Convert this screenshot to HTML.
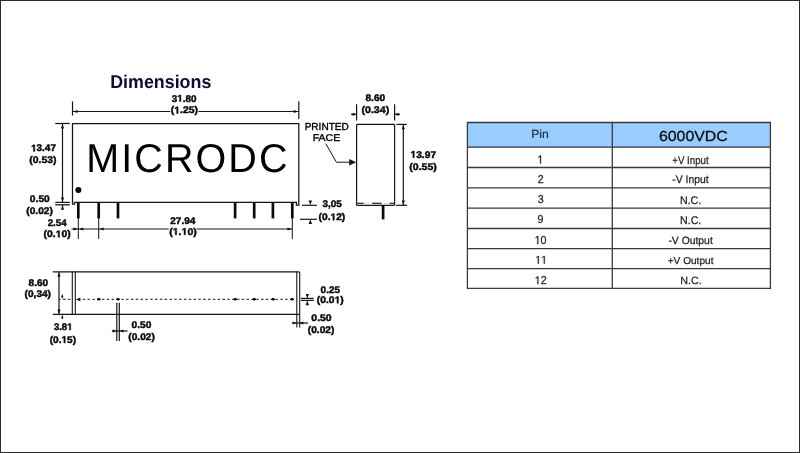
<!DOCTYPE html>
<html><head><meta charset="utf-8"><style>html,body{margin:0;padding:0;background:#fff;}body{width:800px;height:453px;overflow:hidden;font-family:"Liberation Sans",sans-serif;}svg{display:block;will-change:transform;}</style></head>
<body><svg width="800" height="453" viewBox="0 0 800 453" text-rendering="geometricPrecision" font-family="Liberation Sans, sans-serif">
<rect x="0" y="0" width="800" height="453" fill="#fff"/>
<rect x="467.5" y="122.5" width="303" height="25" fill="#99ccff"/><line x1="467" y1="122.5" x2="771" y2="122.5" stroke="#3a3a3a" stroke-width="1.3"/><line x1="467" y1="147.2" x2="771" y2="147.2" stroke="#3a3a3a" stroke-width="1.3"/><line x1="467" y1="167.5" x2="771" y2="167.5" stroke="#3a3a3a" stroke-width="1.3"/><line x1="467" y1="187.8" x2="771" y2="187.8" stroke="#3a3a3a" stroke-width="1.3"/><line x1="467" y1="208.1" x2="771" y2="208.1" stroke="#3a3a3a" stroke-width="1.3"/><line x1="467" y1="228.5" x2="771" y2="228.5" stroke="#3a3a3a" stroke-width="1.3"/><line x1="467" y1="248.6" x2="771" y2="248.6" stroke="#3a3a3a" stroke-width="1.3"/><line x1="467" y1="268.7" x2="771" y2="268.7" stroke="#3a3a3a" stroke-width="1.3"/><line x1="467" y1="288.4" x2="771" y2="288.4" stroke="#3a3a3a" stroke-width="1.3"/><line x1="467.4" y1="122" x2="467.4" y2="289" stroke="#3a3a3a" stroke-width="1.3"/><line x1="612.3" y1="122" x2="612.3" y2="289" stroke="#3a3a3a" stroke-width="1.3"/><line x1="770.4" y1="122" x2="770.4" y2="289" stroke="#3a3a3a" stroke-width="1.3"/>
<path d="M72.5,123.5 H298.8 V205.2 H296.4 V202.4 H74.6 V204.2 H72.5 Z" fill="none" stroke="#151515" stroke-width="1.25"/><circle cx="78.4" cy="190" r="3" fill="#000"/><line x1="78.3" y1="202.5" x2="78.3" y2="218.4" stroke="#0a0a0a" stroke-width="2.7"/><line x1="98.7" y1="202.5" x2="98.7" y2="218.4" stroke="#0a0a0a" stroke-width="2.7"/><line x1="118" y1="202.5" x2="118" y2="218.4" stroke="#0a0a0a" stroke-width="2.7"/><line x1="235.1" y1="202.5" x2="235.1" y2="218.4" stroke="#0a0a0a" stroke-width="2.7"/><line x1="254.2" y1="202.5" x2="254.2" y2="218.4" stroke="#0a0a0a" stroke-width="2.7"/><line x1="272.9" y1="202.5" x2="272.9" y2="218.4" stroke="#0a0a0a" stroke-width="2.7"/><line x1="292.3" y1="202.5" x2="292.3" y2="218.4" stroke="#0a0a0a" stroke-width="2.7"/><line x1="78.3" y1="218" x2="78.3" y2="239" stroke="#151515" stroke-width="1"/><line x1="98.7" y1="218" x2="98.7" y2="239" stroke="#151515" stroke-width="1"/><line x1="292.3" y1="218" x2="292.3" y2="239" stroke="#151515" stroke-width="1"/><line x1="72.5" y1="101.4" x2="72.5" y2="115.5" stroke="#151515" stroke-width="1.2"/><line x1="298.8" y1="101.3" x2="298.8" y2="119.1" stroke="#151515" stroke-width="1.2"/><line x1="72.5" y1="111.5" x2="170.3" y2="111.5" stroke="#151515" stroke-width="1.2"/><line x1="198.4" y1="111.5" x2="298.8" y2="111.5" stroke="#151515" stroke-width="1.2"/><polygon points="73.00,111.50 77.50,109.90 77.50,113.10" fill="#151515"/><polygon points="298.30,111.50 293.80,109.90 293.80,113.10" fill="#151515"/><line x1="55.2" y1="123.5" x2="69.8" y2="123.5" stroke="#151515" stroke-width="1.2"/><line x1="62.5" y1="123.5" x2="62.5" y2="202.3" stroke="#151515" stroke-width="1.2"/><polygon points="62.50,124.00 60.90,128.50 64.10,128.50" fill="#151515"/><polygon points="62.50,202.00 60.90,197.50 64.10,197.50" fill="#151515"/><line x1="55.3" y1="202.4" x2="69.8" y2="202.4" stroke="#151515" stroke-width="1.2"/><line x1="55.3" y1="204.8" x2="69.8" y2="204.8" stroke="#151515" stroke-width="1.3"/><line x1="62.5" y1="205" x2="62.5" y2="209.5" stroke="#151515" stroke-width="1.2"/><polygon points="62.50,205.20 60.90,209.70 64.10,209.70" fill="#151515"/><line x1="71.5" y1="229" x2="168.7" y2="229" stroke="#151515" stroke-width="1.2"/><line x1="196.6" y1="229" x2="292.3" y2="229" stroke="#151515" stroke-width="1.2"/><polygon points="78.00,229.00 73.50,227.40 73.50,230.60" fill="#151515"/><polygon points="78.80,229.00 83.30,227.40 83.30,230.60" fill="#151515"/><polygon points="99.20,229.00 103.70,227.40 103.70,230.60" fill="#151515"/><polygon points="291.90,229.00 287.40,227.40 287.40,230.60" fill="#151515"/><line x1="302" y1="205.3" x2="316.9" y2="205.3" stroke="#151515" stroke-width="1.2"/><line x1="300.1" y1="219.3" x2="316.9" y2="219.3" stroke="#151515" stroke-width="1.2"/><polygon points="310.30,205.00 308.50,200.60 312.10,200.60" fill="#151515"/><polygon points="310.30,219.40 308.50,224.00 312.10,224.00" fill="#151515"/><line x1="356.6" y1="124.4" x2="394.6" y2="124.4" stroke="#151515" stroke-width="1.2"/><line x1="356.6" y1="124.4" x2="356.6" y2="205.3" stroke="#151515" stroke-width="1.2"/><line x1="394.6" y1="124.4" x2="394.6" y2="205.3" stroke="#151515" stroke-width="1.2"/><line x1="356.6" y1="205.3" x2="394.6" y2="205.3" stroke="#151515" stroke-width="1.2"/><line x1="357.2" y1="203.3" x2="363.7" y2="203.3" stroke="#222" stroke-width="1.2"/><line x1="372" y1="203.3" x2="381.7" y2="203.3" stroke="#222" stroke-width="1.2"/><line x1="389.5" y1="203.3" x2="394.2" y2="203.3" stroke="#222" stroke-width="1.2"/><line x1="365" y1="203.3" x2="366.5" y2="203.3" stroke="#bbb" stroke-width="1"/><line x1="367.7" y1="203.3" x2="369" y2="203.3" stroke="#bbb" stroke-width="1"/><line x1="383.8" y1="203.3" x2="385.2" y2="203.3" stroke="#bbb" stroke-width="1"/><line x1="386.5" y1="203.3" x2="388" y2="203.3" stroke="#bbb" stroke-width="1"/><line x1="383.1" y1="205.3" x2="383.1" y2="219.4" stroke="#0a0a0a" stroke-width="2.7"/><line x1="356.6" y1="104.3" x2="356.6" y2="120.5" stroke="#151515" stroke-width="1.2"/><line x1="394.6" y1="104.3" x2="394.6" y2="120.5" stroke="#151515" stroke-width="1.2"/><line x1="351" y1="114.3" x2="356.6" y2="114.3" stroke="#151515" stroke-width="1.2"/><polygon points="356.40,114.30 352.60,112.70 352.60,115.90" fill="#151515"/><line x1="394.6" y1="114.3" x2="400" y2="114.3" stroke="#151515" stroke-width="1.2"/><polygon points="394.80,114.30 398.60,112.70 398.60,115.90" fill="#151515"/><line x1="396.4" y1="124.4" x2="406.8" y2="124.4" stroke="#151515" stroke-width="1.2"/><line x1="396" y1="205.3" x2="407" y2="205.3" stroke="#151515" stroke-width="1.2"/><line x1="403.3" y1="124.4" x2="403.3" y2="205.3" stroke="#151515" stroke-width="1.2"/><polygon points="403.30,124.80 401.70,129.30 404.90,129.30" fill="#151515"/><polygon points="403.30,204.90 401.70,200.40 404.90,200.40" fill="#151515"/><polyline points="325.8,143.7 336.4,162.2 352,162.2" fill="none" stroke="#151515" stroke-width="1"/><polygon points="356.20,162.20 349.20,159.00 349.20,165.40" fill="#151515"/><line x1="52.8" y1="271.8" x2="299.3" y2="271.8" stroke="#151515" stroke-width="1.2"/><line x1="52.8" y1="314.4" x2="299.3" y2="314.4" stroke="#151515" stroke-width="1.2"/><line x1="72.3" y1="271.8" x2="72.3" y2="314.4" stroke="#151515" stroke-width="1.1"/><line x1="75.3" y1="271.8" x2="75.3" y2="314.4" stroke="#151515" stroke-width="1.1"/><line x1="296.8" y1="271.8" x2="296.8" y2="327.5" stroke="#151515" stroke-width="1.1"/><line x1="299.7" y1="271.8" x2="299.7" y2="327.5" stroke="#151515" stroke-width="1.1"/><line x1="59" y1="272" x2="59" y2="314.2" stroke="#151515" stroke-width="1.2"/><polygon points="59.00,272.30 57.40,276.80 60.60,276.80" fill="#151515"/><polygon points="59.00,313.90 57.40,309.40 60.60,309.40" fill="#151515"/><line x1="57" y1="299.4" x2="71.5" y2="299.4" stroke="#444" stroke-width="1.1" stroke-dasharray="2.5,2.32" stroke-dashoffset="-1.2"/><line x1="81.5" y1="299.4" x2="292" y2="299.4" stroke="#444" stroke-width="1.1" stroke-dasharray="2.5,2.32" stroke-dashoffset="-1.2"/><polygon points="75.80,299.40 80.40,297.60 80.40,301.20" fill="#151515"/><ellipse cx="98.8" cy="299.3" rx="1.7" ry="1.3" fill="#000"/><ellipse cx="118" cy="299.3" rx="1.7" ry="1.3" fill="#000"/><ellipse cx="235.25" cy="299.3" rx="1.7" ry="1.3" fill="#000"/><ellipse cx="254.3" cy="299.3" rx="1.7" ry="1.3" fill="#000"/><ellipse cx="273.2" cy="299.3" rx="1.7" ry="1.3" fill="#000"/><ellipse cx="292.2" cy="299.3" rx="1.7" ry="1.3" fill="#000"/><polygon points="62.30,299.00 61.10,296.00 63.50,296.00" fill="#151515"/><line x1="62.3" y1="294.5" x2="62.3" y2="297" stroke="#151515" stroke-width="1.2"/><polygon points="62.30,314.80 61.10,317.80 63.50,317.80" fill="#151515"/><line x1="62.3" y1="317" x2="62.3" y2="319" stroke="#151515" stroke-width="1.2"/><line x1="116.8" y1="302.8" x2="116.8" y2="341" stroke="#151515" stroke-width="1.2"/><line x1="119.3" y1="302.8" x2="119.3" y2="341" stroke="#151515" stroke-width="1.2"/><line x1="111.9" y1="331" x2="127.6" y2="331" stroke="#151515" stroke-width="1.2"/><polygon points="116.60,331.00 112.60,329.50 112.60,332.50" fill="#151515"/><polygon points="119.50,331.00 123.50,329.50 123.50,332.50" fill="#151515"/><line x1="301" y1="298.4" x2="313.8" y2="298.4" stroke="#151515" stroke-width="1.2"/><line x1="301" y1="300.4" x2="313.8" y2="300.4" stroke="#151515" stroke-width="1.2"/><polygon points="307.30,298.40 305.60,294.00 309.00,294.00" fill="#151515"/><polygon points="307.30,300.40 305.60,305.20 309.00,305.20" fill="#151515"/><line x1="292.4" y1="323" x2="307.9" y2="323" stroke="#151515" stroke-width="1.2"/><polygon points="296.60,323.00 292.60,321.50 292.60,324.50" fill="#151515"/><polygon points="299.40,323.00 303.40,321.50 303.40,324.50" fill="#151515"/>
<text x="110.20" y="88.10" font-size="18.47" font-weight="bold" fill="#0b0d34" textLength="101.13" lengthAdjust="spacingAndGlyphs">Dimensions</text><text x="171.73" y="101.59" font-size="9.60" font-weight="bold" fill="#0a0a0a" textLength="24.77" lengthAdjust="spacingAndGlyphs" stroke="#0a0a0a" stroke-width="0.45">3 .80</text><path transform="translate(177.23,101.59) scale(0.00483,-0.00469)" d="M478,0H759V1409H493L140,1180V959L478,1170Z" fill="#0a0a0a" stroke="#0a0a0a" stroke-width="0.45" vector-effect="non-scaling-stroke"/><text x="170.78" y="113.48" font-size="9.60" font-weight="bold" fill="#0a0a0a" textLength="27.24" lengthAdjust="spacingAndGlyphs" stroke="#0a0a0a" stroke-width="0.45">( .25)</text><path transform="translate(174.25,113.48) scale(0.00509,-0.00469)" d="M478,0H759V1409H493L140,1180V959L478,1170Z" fill="#0a0a0a" stroke="#0a0a0a" stroke-width="0.45" vector-effect="non-scaling-stroke"/><text x="31.08" y="151.44" font-size="9.60" font-weight="bold" fill="#0a0a0a" textLength="24.84" lengthAdjust="spacingAndGlyphs" stroke="#0a0a0a" stroke-width="0.45"> 3.47</text><path transform="translate(31.08,151.44) scale(0.00485,-0.00469)" d="M478,0H759V1409H493L140,1180V959L478,1170Z" fill="#0a0a0a" stroke="#0a0a0a" stroke-width="0.45" vector-effect="non-scaling-stroke"/><text x="29.38" y="162.73" font-size="9.60" font-weight="bold" fill="#0a0a0a" textLength="27.14" lengthAdjust="spacingAndGlyphs" stroke="#0a0a0a" stroke-width="0.45">(0.53)</text><text x="29.89" y="202.40" font-size="9.60" font-weight="bold" fill="#0a0a0a" textLength="19.93" lengthAdjust="spacingAndGlyphs" stroke="#0a0a0a" stroke-width="0.45">0.50</text><text x="26.39" y="213.63" font-size="9.60" font-weight="bold" fill="#0a0a0a" textLength="26.41" lengthAdjust="spacingAndGlyphs" stroke="#0a0a0a" stroke-width="0.45">(0.02)</text><text x="47.66" y="225.80" font-size="9.60" font-weight="bold" fill="#0a0a0a" textLength="19.00" lengthAdjust="spacingAndGlyphs" stroke="#0a0a0a" stroke-width="0.45">2.54</text><text x="43.58" y="237.33" font-size="9.60" font-weight="bold" fill="#0a0a0a" textLength="27.14" lengthAdjust="spacingAndGlyphs" stroke="#0a0a0a" stroke-width="0.45">(0. 0)</text><path transform="translate(55.70,237.33) scale(0.00507,-0.00469)" d="M478,0H759V1409H493L140,1180V959L478,1170Z" fill="#0a0a0a" stroke="#0a0a0a" stroke-width="0.45" vector-effect="non-scaling-stroke"/><text x="170.25" y="223.67" font-size="9.60" font-weight="bold" fill="#0a0a0a" textLength="25.05" lengthAdjust="spacingAndGlyphs" stroke="#0a0a0a" stroke-width="0.45">27.94</text><text x="169.22" y="234.81" font-size="9.60" font-weight="bold" fill="#0a0a0a" textLength="27.55" lengthAdjust="spacingAndGlyphs" stroke="#0a0a0a" stroke-width="0.45">( . 0)</text><path transform="translate(172.74,234.81) scale(0.00515,-0.00469)" d="M478,0H759V1409H493L140,1180V959L478,1170Z" fill="#0a0a0a" stroke="#0a0a0a" stroke-width="0.45" vector-effect="non-scaling-stroke"/><path transform="translate(181.53,234.81) scale(0.00515,-0.00469)" d="M478,0H759V1409H493L140,1180V959L478,1170Z" fill="#0a0a0a" stroke="#0a0a0a" stroke-width="0.45" vector-effect="non-scaling-stroke"/><text x="322.48" y="206.50" font-size="9.60" font-weight="bold" fill="#0a0a0a" textLength="19.41" lengthAdjust="spacingAndGlyphs" stroke="#0a0a0a" stroke-width="0.45">3,05</text><text x="318.59" y="220.28" font-size="9.60" font-weight="bold" fill="#0a0a0a" textLength="26.62" lengthAdjust="spacingAndGlyphs" stroke="#0a0a0a" stroke-width="0.45">(0. 2)</text><path transform="translate(330.48,220.28) scale(0.00498,-0.00469)" d="M478,0H759V1409H493L140,1180V959L478,1170Z" fill="#0a0a0a" stroke="#0a0a0a" stroke-width="0.45" vector-effect="non-scaling-stroke"/><text x="365.47" y="101.40" font-size="9.60" font-weight="bold" fill="#0a0a0a" textLength="19.75" lengthAdjust="spacingAndGlyphs" stroke="#0a0a0a" stroke-width="0.45">8.60</text><text x="361.47" y="113.28" font-size="9.60" font-weight="bold" fill="#0a0a0a" textLength="27.76" lengthAdjust="spacingAndGlyphs" stroke="#0a0a0a" stroke-width="0.45">(0.34)</text><text x="410.46" y="157.69" font-size="9.60" font-weight="bold" fill="#0a0a0a" textLength="25.68" lengthAdjust="spacingAndGlyphs" stroke="#0a0a0a" stroke-width="0.45"> 3.97</text><path transform="translate(410.46,157.69) scale(0.00501,-0.00469)" d="M478,0H759V1409H493L140,1180V959L478,1170Z" fill="#0a0a0a" stroke="#0a0a0a" stroke-width="0.45" vector-effect="non-scaling-stroke"/><text x="409.37" y="169.58" font-size="9.60" font-weight="bold" fill="#0a0a0a" textLength="27.45" lengthAdjust="spacingAndGlyphs" stroke="#0a0a0a" stroke-width="0.45">(0.55)</text><text x="28.58" y="285.85" font-size="9.60" font-weight="bold" fill="#0a0a0a" textLength="19.44" lengthAdjust="spacingAndGlyphs" stroke="#0a0a0a" stroke-width="0.45">8.60</text><text x="24.59" y="297.48" font-size="9.60" font-weight="bold" fill="#0a0a0a" textLength="26.41" lengthAdjust="spacingAndGlyphs" stroke="#0a0a0a" stroke-width="0.45">(0,34)</text><text x="53.89" y="329.99" font-size="9.60" font-weight="bold" fill="#0a0a0a" textLength="18.59" lengthAdjust="spacingAndGlyphs" stroke="#0a0a0a" stroke-width="0.45">3.8 </text><path transform="translate(67.16,329.99) scale(0.00466,-0.00469)" d="M478,0H759V1409H493L140,1180V959L478,1170Z" fill="#0a0a0a" stroke="#0a0a0a" stroke-width="0.45" vector-effect="non-scaling-stroke"/><text x="49.69" y="342.93" font-size="9.60" font-weight="bold" fill="#0a0a0a" textLength="26.41" lengthAdjust="spacingAndGlyphs" stroke="#0a0a0a" stroke-width="0.45">(0. 5)</text><path transform="translate(61.49,342.93) scale(0.00494,-0.00469)" d="M478,0H759V1409H493L140,1180V959L478,1170Z" fill="#0a0a0a" stroke="#0a0a0a" stroke-width="0.45" vector-effect="non-scaling-stroke"/><text x="131.59" y="328.45" font-size="9.60" font-weight="bold" fill="#0a0a0a" textLength="19.83" lengthAdjust="spacingAndGlyphs" stroke="#0a0a0a" stroke-width="0.45">0.50</text><text x="128.39" y="340.18" font-size="9.60" font-weight="bold" fill="#0a0a0a" textLength="26.41" lengthAdjust="spacingAndGlyphs" stroke="#0a0a0a" stroke-width="0.45">(0.02)</text><text x="320.60" y="292.73" font-size="9.60" font-weight="bold" fill="#0a0a0a" textLength="19.39" lengthAdjust="spacingAndGlyphs" stroke="#0a0a0a" stroke-width="0.45">0.25</text><text x="316.89" y="303.23" font-size="9.60" font-weight="bold" fill="#0a0a0a" textLength="26.83" lengthAdjust="spacingAndGlyphs" stroke="#0a0a0a" stroke-width="0.45">(0.0 )</text><path transform="translate(334.58,303.23) scale(0.00501,-0.00469)" d="M478,0H759V1409H493L140,1180V959L478,1170Z" fill="#0a0a0a" stroke="#0a0a0a" stroke-width="0.45" vector-effect="non-scaling-stroke"/><text x="311.38" y="320.55" font-size="9.60" font-weight="bold" fill="#0a0a0a" textLength="20.25" lengthAdjust="spacingAndGlyphs" stroke="#0a0a0a" stroke-width="0.45">0.50</text><text x="307.79" y="332.83" font-size="9.60" font-weight="bold" fill="#0a0a0a" textLength="26.62" lengthAdjust="spacingAndGlyphs" stroke="#0a0a0a" stroke-width="0.45">(0.02)</text><text x="304.67" y="129.70" font-size="10.18" font-weight="normal" fill="#000" textLength="44.10" lengthAdjust="spacingAndGlyphs" stroke="#000" stroke-width="0.35">PRINTED</text><text x="312.73" y="141.40" font-size="9.75" font-weight="normal" fill="#000" textLength="27.51" lengthAdjust="spacingAndGlyphs" stroke="#000" stroke-width="0.35">FACE</text><text transform="translate(86.24,171.58) scale(0.981,1)" x="0" y="0" font-size="40.26" letter-spacing="2.14" fill="#000">MICRODC</text><text x="531.20" y="137.70" font-size="11.86" font-weight="normal" fill="#1c2838" textLength="17.60" lengthAdjust="spacingAndGlyphs" stroke="#1c2838" stroke-width="0.15">Pin</text><text x="658.91" y="140.55" font-size="14.56" font-weight="normal" fill="#0a0a0a" textLength="68.91" lengthAdjust="spacingAndGlyphs" stroke="#0a0a0a" stroke-width="0.25">6000VDC</text><text x="537.39" y="163.45" font-size="11.50" font-weight="normal" fill="#1e1e1e" textLength="5.95" lengthAdjust="spacingAndGlyphs" stroke="#1e1e1e" stroke-width="0.25"> </text><path transform="translate(537.39,163.45) scale(0.00522,-0.00562)" d="M515,0H696V1409H530L197,1180V1010L515,1237Z" fill="#1e1e1e" stroke="#1e1e1e" stroke-width="0.25" vector-effect="non-scaling-stroke"/><text x="537.63" y="182.61" font-size="11.50" font-weight="normal" fill="#1e1e1e" textLength="5.95" lengthAdjust="spacingAndGlyphs" stroke="#1e1e1e" stroke-width="0.25">2</text><text x="537.66" y="203.35" font-size="11.50" font-weight="normal" fill="#1e1e1e" textLength="5.95" lengthAdjust="spacingAndGlyphs" stroke="#1e1e1e" stroke-width="0.25">3</text><text x="537.62" y="223.15" font-size="11.50" font-weight="normal" fill="#1e1e1e" textLength="5.95" lengthAdjust="spacingAndGlyphs" stroke="#1e1e1e" stroke-width="0.25">9</text><text x="534.66" y="244.00" font-size="11.50" font-weight="normal" fill="#1e1e1e" textLength="11.90" lengthAdjust="spacingAndGlyphs" stroke="#1e1e1e" stroke-width="0.25"> 0</text><path transform="translate(534.66,244.00) scale(0.00522,-0.00562)" d="M515,0H696V1409H530L197,1180V1010L515,1237Z" fill="#1e1e1e" stroke="#1e1e1e" stroke-width="0.25" vector-effect="non-scaling-stroke"/><text x="535.15" y="263.80" font-size="11.50" font-weight="normal" fill="#1e1e1e" textLength="11.10" lengthAdjust="spacingAndGlyphs" stroke="#1e1e1e" stroke-width="0.25">  </text><path transform="translate(535.15,263.80) scale(0.00522,-0.00562)" d="M515,0H696V1409H530L197,1180V1010L515,1237Z" fill="#1e1e1e" stroke="#1e1e1e" stroke-width="0.25" vector-effect="non-scaling-stroke"/><path transform="translate(541.10,263.80) scale(0.00522,-0.00562)" d="M515,0H696V1409H530L197,1180V1010L515,1237Z" fill="#1e1e1e" stroke="#1e1e1e" stroke-width="0.25" vector-effect="non-scaling-stroke"/><text x="534.73" y="284.36" font-size="11.50" font-weight="normal" fill="#1e1e1e" textLength="11.90" lengthAdjust="spacingAndGlyphs" stroke="#1e1e1e" stroke-width="0.25"> 2</text><path transform="translate(534.73,284.36) scale(0.00522,-0.00562)" d="M515,0H696V1409H530L197,1180V1010L515,1237Z" fill="#1e1e1e" stroke="#1e1e1e" stroke-width="0.25" vector-effect="non-scaling-stroke"/><text x="672.21" y="163.60" font-size="11.05" font-weight="normal" fill="#1e1e1e" textLength="36.46" lengthAdjust="spacingAndGlyphs" stroke="#1e1e1e" stroke-width="0.25">+V Input</text><text x="672.23" y="183.00" font-size="11.05" font-weight="normal" fill="#1e1e1e" textLength="36.44" lengthAdjust="spacingAndGlyphs" stroke="#1e1e1e" stroke-width="0.25">-V Input</text><text x="680.02" y="203.70" font-size="11.05" font-weight="normal" fill="#1e1e1e" textLength="21.23" lengthAdjust="spacingAndGlyphs" stroke="#1e1e1e" stroke-width="0.25">N.C.</text><text x="680.02" y="223.70" font-size="11.20" font-weight="normal" fill="#1e1e1e" textLength="21.23" lengthAdjust="spacingAndGlyphs" stroke="#1e1e1e" stroke-width="0.25">N.C.</text><text x="668.43" y="244.20" font-size="10.62" font-weight="normal" fill="#1e1e1e" textLength="44.34" lengthAdjust="spacingAndGlyphs" stroke="#1e1e1e" stroke-width="0.25">-V Output</text><text x="667.69" y="263.90" font-size="10.04" font-weight="normal" fill="#1e1e1e" textLength="45.79" lengthAdjust="spacingAndGlyphs" stroke="#1e1e1e" stroke-width="0.25">+V Output</text><text x="680.32" y="284.20" font-size="10.47" font-weight="normal" fill="#1e1e1e" textLength="21.45" lengthAdjust="spacingAndGlyphs" stroke="#1e1e1e" stroke-width="0.25">N.C.</text>
<rect x="0.5" y="0.5" width="799" height="452" fill="none" stroke="#2a2a2a" stroke-width="1"/>
</svg></body></html>
